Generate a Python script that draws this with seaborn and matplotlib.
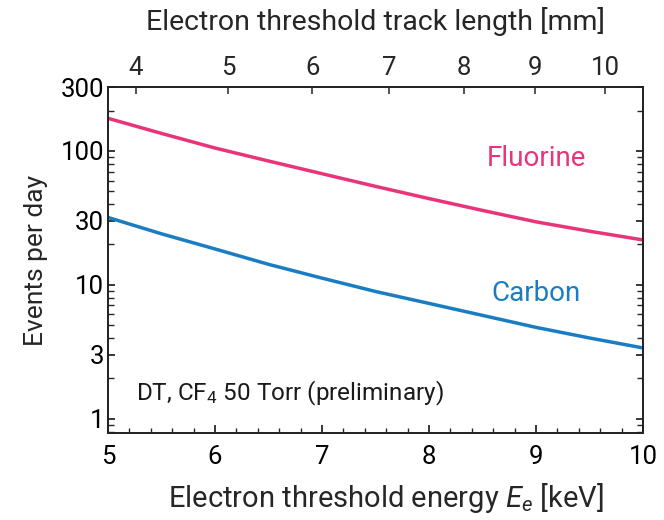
import numpy as np
import pandas as pd
import matplotlib
matplotlib.use("Agg")
import matplotlib.pyplot as plt
import matplotlib.ticker as mticker
import seaborn as sns

# ---- data ----
energy_keV = [5.0, 5.5, 6.0, 6.5, 7.0, 7.5, 8.0, 8.5, 9.0, 9.5, 10.0]
fluorine_rate = [175, 135, 105, 84, 67.5, 54.3, 44, 35.9, 29.5, 25.1, 21.6]
carbon_rate = [31.8, 24.0, 18.5, 14.2, 11.2, 8.9, 7.25, 5.9, 4.8, 4.0, 3.37]

track_mm = [4, 5, 6, 7, 8, 9, 10]
track_energy_keV = [5.26, 6.125, 6.91, 7.63, 8.33, 8.99, 9.645]

y_major = [1, 3, 10, 30, 100, 300]
y_labels = ["1", "3", "10", "30", "100", "300"]
x_major = [5, 6, 7, 8, 9, 10]

series_names = ["Fluorine", "Carbon"]
series_colors = ["#E8347A", "#1A7DC3"]

# ---- build table ----
df = pd.DataFrame({
    "energy": energy_keV * 2,
    "rate": fluorine_rate + carbon_rate,
    "element": [series_names[0]] * len(energy_keV) + [series_names[1]] * len(energy_keV),
})

sns.set_theme(style="ticks")
plt.rcParams["font.family"] = ["Roboto", "DejaVu Sans"]
plt.rcParams["mathtext.fontset"] = "custom"
plt.rcParams["mathtext.rm"] = "Roboto"
plt.rcParams["mathtext.it"] = "Roboto:italic"

fig = plt.figure(figsize=(6.64, 5.2), dpi=100)
ax = fig.add_axes([108 / 664, 1 - 433 / 520, (643 - 108) / 664, (433 - 87) / 520])

sns.lineplot(data=df, x="energy", y="rate", hue="element",
             palette=dict(zip(series_names, series_colors)),
             linewidth=2.5, legend=False, ax=ax)

ax.set_yscale("log")
ax.set_xlim(5, 10)
ax.set_ylim(0.78, 300)

ax.set_yticks(y_major)
ax.set_yticklabels(y_labels)
ax.yaxis.set_minor_locator(mticker.LogLocator(base=10, subs=np.arange(2, 10)))
ax.yaxis.set_minor_formatter(mticker.NullFormatter())
ax.set_xticks(x_major)
ax.set_xticklabels([str(v) for v in x_major])
ax.xaxis.set_minor_locator(mticker.MultipleLocator(0.2))

for sp in ax.spines.values():
    sp.set_linewidth(1.2)
    sp.set_color("black")
    sp.set_visible(True)

ax.tick_params(axis="both", which="major", direction="in", length=6, width=1.1,
               labelsize=18.5, colors="black")
ax.tick_params(axis="both", which="minor", direction="in", length=3.5, width=1.0)
ax.tick_params(axis="y", which="both", left=True, right=True)
ax.tick_params(axis="x", which="both", bottom=True, top=False)
ax.tick_params(axis="x", which="major", pad=9)
ax.tick_params(axis="y", which="major", length=5, pad=3)
ax.tick_params(axis="y", which="minor", length=4.5)

ax.set_xlabel(r"Electron threshold energy $\mathit{E}_{\mathit{e}}$ [keV]", fontsize=21,
              labelpad=8, x=0.52)
ax.set_ylabel("Events per day", fontsize=19, labelpad=9)

# top axis: track length
ax2 = ax.twiny()
ax2.set_xlim(ax.get_xlim())
ax2.set_xticks(track_energy_keV)
ax2.set_xticklabels([str(v) for v in track_mm])
ax2.tick_params(axis="x", which="major", direction="in", length=5, width=1.1,
                labelsize=18.5, pad=5)
ax2.xaxis.set_minor_locator(mticker.NullLocator())
ax2.set_xlabel("Electron threshold track length [mm]", fontsize=20.5, labelpad=19)
for sp in ax2.spines.values():
    sp.set_linewidth(1.2)

ax.text(9.0, 87, series_names[0], color=series_colors[0], fontsize=20,
        ha="center", va="center")
ax.text(9.0, 8.6, series_names[1], color=series_colors[1], fontsize=20,
        ha="center", va="center")
ax.text(5.26, 1.53, r"DT, CF$_4$ 50 Torr (preliminary)", fontsize=17.5,
        ha="left", va="center", color="#1a1a1a")

fig.savefig("out.png", dpi=100)
